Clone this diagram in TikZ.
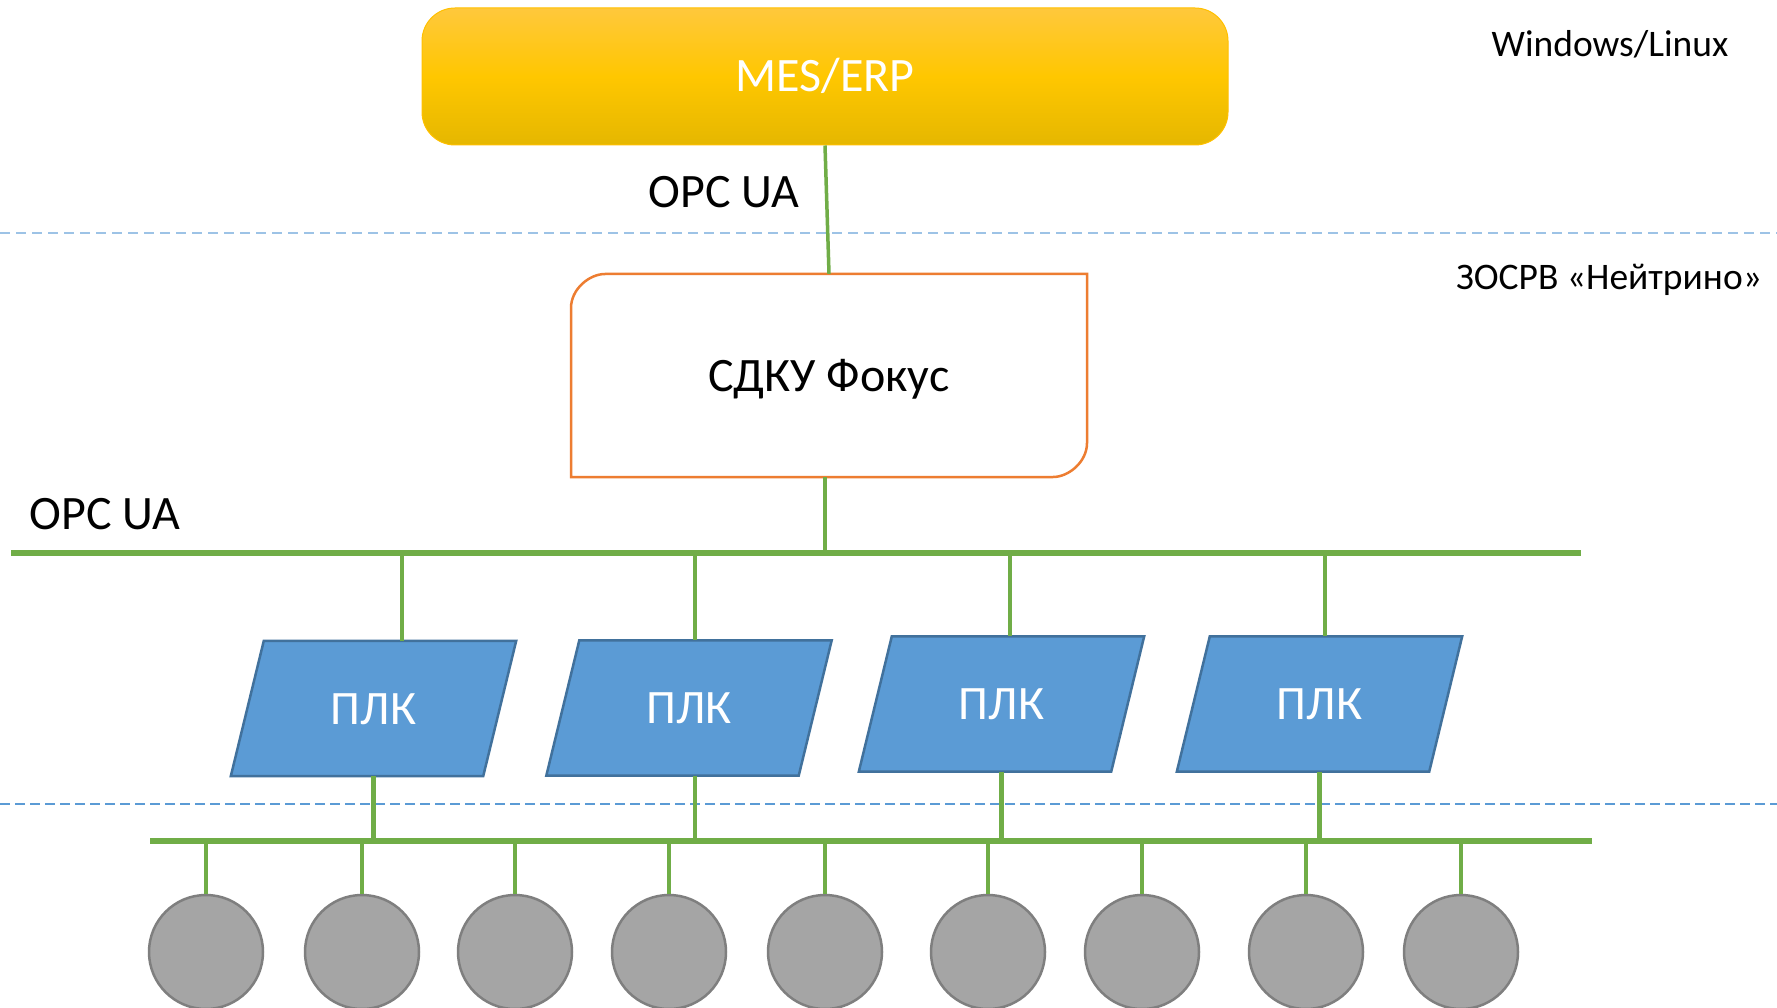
\documentclass[tikz,border=0pt]{standalone}
\usepackage{fontspec}
\setmainfont{Carlito}
\usetikzlibrary{backgrounds}
\definecolor{grn}{RGB}{112,173,71}
\definecolor{plcfill}{RGB}{91,155,213}
\definecolor{plcedge}{RGB}{65,113,156}
\definecolor{orng}{RGB}{237,125,49}
\definecolor{nodegray}{RGB}{165,165,165}
\definecolor{nodeedge}{RGB}{127,127,127}
\definecolor{dashA}{RGB}{157,195,230}
\definecolor{dashB}{RGB}{91,155,213}
\definecolor{goldT}{RGB}{255,200,60}
\definecolor{goldM}{RGB}{255,199,0}
\definecolor{goldB}{RGB}{229,183,0}
\definecolor{goldE}{RGB}{255,192,0}
\begin{document}
\begin{tikzpicture}[x=1pt,y=-1pt,
  bigtext/.style={font=\fontsize{48}{58}\selectfont},
  ostext/.style={font=\fontsize{37.5}{45}\selectfont},
  bus/.style={draw=grn, line width=6pt},
  drop/.style={draw=grn, line width=4.5pt},
  thindrop/.style={draw=grn, line width=3.5pt},
  mesbox/.style={rectangle, rounded corners=33pt, minimum width=806pt, minimum height=137pt,
    inner sep=0pt, top color=goldT, bottom color=goldB, middle color=goldM, draw=goldE, line width=1pt,
    text=white, bigtext, text height=31pt, text depth=0pt},
  sdkubox/.style={rectangle, minimum width=516pt, minimum height=203pt, inner sep=0pt,
    bigtext, text height=31pt, text depth=0pt},
  sdkuedge/.style={draw=orng, line width=2.5pt, fill=white},
  plc/.style={rectangle, minimum width=285pt, minimum height=135pt, inner sep=0pt,
    text=white, bigtext, text height=31pt, text depth=0pt},
  plcshape/.style={fill=plcfill, draw=plcedge, line width=2.5pt, line join=miter},
  dev/.style={circle, minimum size=114pt, inner sep=0pt, fill=nodegray, draw=nodeedge, line width=2.5pt},
  dashtop/.style={draw=dashA, line width=2pt, dash pattern=on 10pt off 6pt},
  dashbot/.style={draw=dashB, line width=1.5pt, dash pattern=on 10pt off 5pt}
]
\useasboundingbox (0,0) rectangle (1777,1008);

% dashed separators
\draw[dashtop] (0,233) -- (1777,233);
\draw[dashbot] (0,804) -- (1777,804);

% top system
\node[mesbox] (mes) at (825,76.5) {MES/ERP};
\node[bigtext, anchor=base] (opc1) at (724,208) {OPC UA};

% SDKU box
\draw[sdkuedge] (571,477) -- (571,308) .. controls (571,289.2) and (589.2,274) .. (605,274)
  -- (1087,274) -- (1087,443) .. controls (1087,461.8) and (1068.8,477) .. (1053,477) -- cycle;
\node[sdkubox] (sdku) at (829,375.5) {СДКУ Фокус};
\draw[thindrop] (mes.south) -- (sdku.north);

% OS labels
\node[ostext, anchor=base] (os1) at (1610,57) {Windows/Linux};
\node[ostext, anchor=base] (os2) at (1609,290) {ЗОСРВ «Нейтрино»};

% upper bus
\coordinate (b1l) at (11,553);
\coordinate (b1r) at (1581,553);
\draw[bus] (b1l) -- (b1r);
\draw[drop] ([xshift=-4pt]sdku.south) -- ([xshift=-4pt]sdku.south |- b1l);
\node[bigtext, anchor=base] (opc2) at (105,529) {OPC UA};

% PLCs
\foreach \n/\cx/\cy in {1/373.5/708.5, 2/689/708, 3/1001.5/704, 4/1319.5/704}{
  \node[plc] (plc\n) at (\cx,\cy) {ПЛК};
}
\begin{scope}[on background layer]
  \fill[white] (0,0) rectangle (1777,1008);
  \foreach \n in {1,2,3,4}{
    \path[plcshape] (plc\n.south west) -- ([xshift=-33pt]plc\n.south east) -- (plc\n.north east)
      -- ([xshift=33pt]plc\n.north west) -- cycle;
  }
\end{scope}

\coordinate (t1) at (402,553);
\coordinate (t2) at (695,553);
\coordinate (t3) at (1010,553);
\coordinate (t4) at (1325,553);
\foreach \n in {1,2,3,4}{
  \draw[drop] (t\n) -- (t\n |- plc\n.north);
}

% lower bus
\coordinate (b2l) at (150,841);
\coordinate (b2r) at (1592,841);
\draw[bus] (b2l) -- (b2r);
\draw[drop] (plc1.south) -- (plc1.south |- b2l);
\draw[drop] ([xshift=6pt]plc2.south) -- ([xshift=6pt]plc2.south |- b2l);
\draw[drop] (plc3.south) -- (plc3.south |- b2l);
\draw[drop] (plc4.south) -- (plc4.south |- b2l);

% field devices
\foreach \i/\cx in {1/206,2/362,3/515,4/669,5/825,6/988,7/1142,8/1306,9/1461}{
  \node[dev] (d\i) at (\cx,952) {};
  \draw[drop] (d\i.north |- b2l) -- (d\i.north);
}
\end{tikzpicture}
\end{document}
